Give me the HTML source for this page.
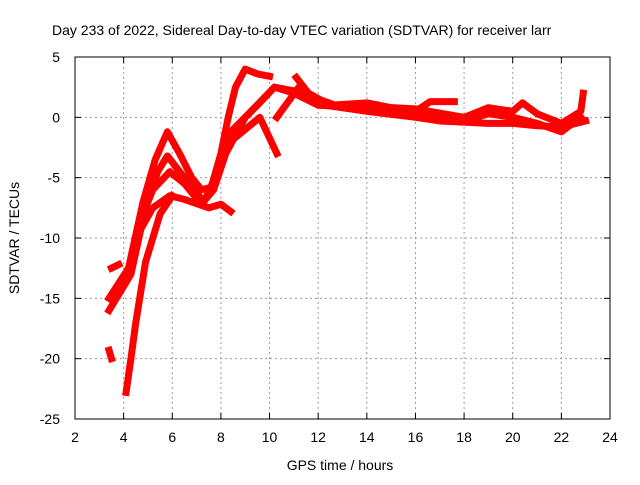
<!DOCTYPE html>
<html><head><meta charset="utf-8"><style>
body{margin:0;background:#fff;font-family:"Liberation Sans",sans-serif;}
svg text{font-family:"Liberation Sans",sans-serif;font-size:14px;fill:#000;}
</style></head><body>
<svg id="chart" width="640" height="480">
<text x="52" y="35" text-anchor="start">Day 233 of 2022, Sidereal Day-to-day VTEC variation (SDTVAR) for receiver larr</text>
<text x="340" y="470" text-anchor="middle">GPS time / hours</text>
<text x="0" y="0" transform="translate(19,238) rotate(-90)" text-anchor="middle">SDTVAR / TECUs</text>
<g id="grid"></g><g id="series"></g>
<rect x="75" y="57" width="535" height="362" fill="none" stroke="#000"/>
</svg>
<script>
const xTicks=[2,4,6,8,10,12,14,16,18,20,22,24];
const yTicks=[5,0,-5,-10,-15,-20,-25];
const seriesA=[[3.4,-15],[4.2,-12.5],[4.8,-7],[5.3,-3.5],[5.8,-1.2],[6.3,-3],[6.8,-5],[7.2,-6],[7.6,-5.8],[8,-3],[8.3,0],[8.6,2.5],[9,4],[9.5,3.6],[10,3.4]];
const seriesB=[[3.4,-16],[4.3,-13],[4.9,-7.5],[5.4,-4.5],[5.8,-3.2],[6.5,-5],[7.3,-7],[8,-4],[8.5,-1],[9.5,1],[10.2,2.5],[11,2],[12,1],[14,0.8],[16,0.5],[16.6,1.3],[17.6,1.3]];
const seriesC=[[4.6,-9],[5.2,-6],[5.9,-4.5],[6.5,-5.5],[7.2,-7.2],[7.7,-6],[8.2,-3],[9,0],[10.2,2.5],[11,2.2],[12,1.5],[13,0.8],[15,0.5],[16,0.3],[18,-0.3],[19,0.3],[20,0],[21,-0.5],[22,-1.2],[22.8,0]];
const seriesD=[[4.5,-10],[5.2,-7.5],[5.9,-6.5],[6.5,-6.8],[7.5,-7.5],[8,-7.2],[8.4,-7.8]];
const seriesE=[[4.1,-22.8],[4.3,-20],[4.5,-17],[4.9,-12],[5.5,-8],[6,-6.5]];
const seriesF=[[8.4,-2],[9.3,-0.5],[9.6,0],[10.3,-3]];
const seriesG=[[10.3,0],[11.2,2.5],[12.3,1],[14,0.5],[16,0],[17,-0.3],[19,-0.5],[20,-0.5],[21,-0.7],[22,-0.8],[23,-0.3]];
const seriesH=[[11.1,3.3],[11.6,2],[12.5,1],[14,1.2],[15,0.8],[16,0.7],[18,0],[19,0.8],[20,0.5],[20.4,1.2],[21,0.3],[22,-0.5],[22.8,0.5],[22.9,2]];
const seriesI=[[3.5,-12.5],[3.8,-12.2]];
const seriesJ=[[3.4,-19.3],[3.5,-20]];
const allSeries=[seriesA,seriesB,seriesC,seriesD,seriesE,seriesF,seriesG,seriesH,seriesI,seriesJ];
const X=h=>75+(h-2)*535/22;
const Y=v=>57+(5-v)*362/30;
const NS="http://www.w3.org/2000/svg";
const grid=document.getElementById('grid'), ser=document.getElementById('series');
function mk(t,a,p){const e=document.createElementNS(NS,t);for(const k in a)e.setAttribute(k,a[k]);p.appendChild(e);return e;}
xTicks.forEach(t=>{
 if(t>2&&t<24){const l=mk('line',{x1:X(t),x2:X(t),y1:57,y2:419,stroke:'#999','stroke-dasharray':'2,3'},grid);
 
 }
 mk('line',{x1:X(t),x2:X(t),y1:419,y2:413,stroke:'#000'},grid);
 mk('line',{x1:X(t),x2:X(t),y1:57,y2:63,stroke:'#000'},grid);
 const tx=mk('text',{x:X(t),y:442,'text-anchor':'middle'},grid);tx.textContent=t;
 
 
});
yTicks.forEach(t=>{
 if(t<5&&t>-25){const l=mk('line',{x1:75,x2:610,y1:Y(t),y2:Y(t),stroke:'#999','stroke-dasharray':'2,3'},grid);
 
 }
 mk('line',{x1:75,x2:81,y1:Y(t),y2:Y(t),stroke:'#000'},grid);
 mk('line',{x1:604,x2:610,y1:Y(t),y2:Y(t),stroke:'#000'},grid);
 const tx=mk('text',{x:60,y:Y(t)+5,'text-anchor':'end'},grid);tx.textContent=t;
 
 
});
allSeries.forEach((s,i)=>{
 const p=mk('polyline',{points:s.map(d=>X(d[0])+','+Y(d[1])).join(' '),fill:'none',stroke:'#f00','stroke-width':7,'stroke-linejoin':'round','stroke-linecap':'square'},ser);
 
 
});
</script>
</body></html>
